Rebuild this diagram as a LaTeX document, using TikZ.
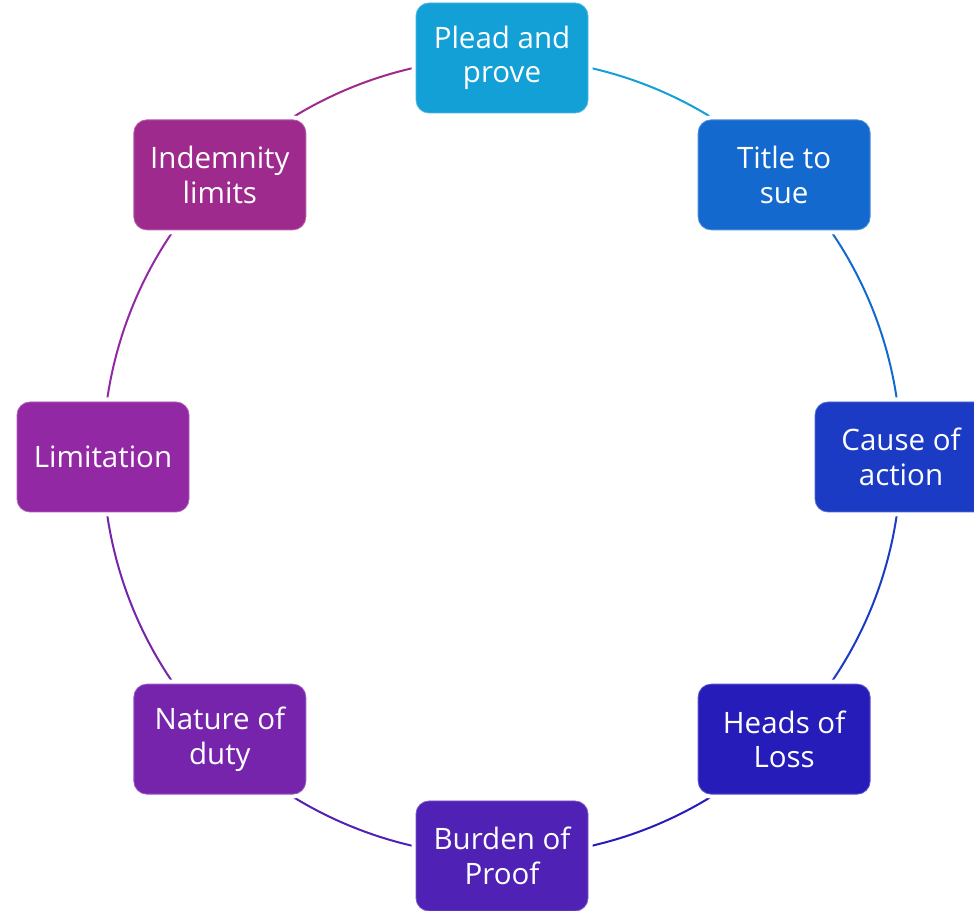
\documentclass[tikz,border=0pt]{standalone}
\usepackage{fontspec}
\setmainfont{Open Sans}
\usetikzlibrary{backgrounds,calc}
\definecolor{cA}{HTML}{12A0D7}
\definecolor{cB}{HTML}{1369CE}
\definecolor{cC}{HTML}{1B3BC5}
\definecolor{cD}{HTML}{261CB9}
\definecolor{cE}{HTML}{5021B5}
\definecolor{cF}{HTML}{7524AB}
\definecolor{cG}{HTML}{9328A5}
\definecolor{cH}{HTML}{9E2A8D}
\tikzset{
  stepbox/.style={rectangle, rounded corners=13pt, minimum width=172pt, minimum height=110pt,
    inner sep=0pt, align=center, text=white, fill=#1, draw=#1!75!white, line width=0.8pt,
    preaction={draw=white, line width=9pt},
    font=\fontsize{29.5}{34.5}\selectfont},
  ring/.style={draw=#1, line width=2pt}
}
\begin{document}
\begin{tikzpicture}[x=1pt,y=1pt]
\useasboundingbox (0,0) rectangle (974,910);
\coordinate (O) at (502,453);
\node[stepbox=cA] (p) at ($(O)+(90:399)$) {Plead and\\prove};
\node[stepbox=cB] (t) at ($(O)+(45:399)$) {Title to\\sue};
\node[stepbox=cC] (c) at ($(O)+(0:399)$) {Cause of\\action};
\node[stepbox=cD] (h) at ($(O)+(-45:399)$) {Heads of\\Loss};
\node[stepbox=cE] (b) at ($(O)+(-90:399)$) {Burden of\\Proof};
\node[stepbox=cF] (n) at ($(O)+(-135:399)$) {Nature of\\duty};
\node[stepbox=cG] (l) at ($(O)+(180:399)$) {Limitation};
\node[stepbox=cH] (i) at ($(O)+(135:399)$) {Indemnity\\limits};
\begin{pgfonlayer}{background}
\draw[ring=cA] (p.center) arc[start angle=90, end angle=45, radius=399pt];
\draw[ring=cB] (t.center) arc[start angle=45, end angle=0, radius=399pt];
\draw[ring=cC] (c.center) arc[start angle=0, end angle=-45, radius=399pt];
\draw[ring=cD] (h.center) arc[start angle=-45, end angle=-90, radius=399pt];
\draw[ring=cE] (b.center) arc[start angle=-90, end angle=-135, radius=399pt];
\draw[ring=cF] (n.center) arc[start angle=-135, end angle=-180, radius=399pt];
\draw[ring=cG] (l.center) arc[start angle=180, end angle=135, radius=399pt];
\draw[ring=cH] (i.center) arc[start angle=135, end angle=90, radius=399pt];
\end{pgfonlayer}
\end{tikzpicture}
\end{document}
